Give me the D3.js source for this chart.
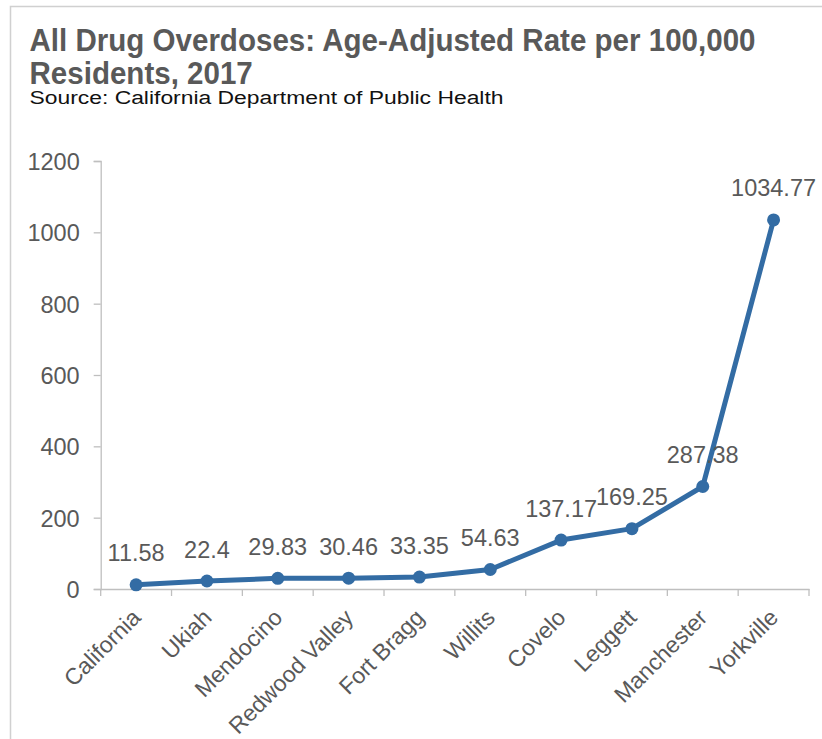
<!DOCTYPE html>
<html><head><meta charset="utf-8">
<script src="https://cdn.jsdelivr.net/npm/d3@7"></script>
<style>
html,body{margin:0;padding:0;background:#fff;}
svg{display:block;}
</style></head>
<body>
<svg id="chart" width="822" height="739"></svg>
<script>
const categories = ["California","Ukiah","Mendocino","Redwood Valley","Fort Bragg","Willits","Covelo","Leggett","Manchester","Yorkville"];
const values = [11.58, 22.4, 29.83, 30.46, 33.35, 54.63, 137.17, 169.25, 287.38, 1034.77];
const valueLabels = ["11.58","22.4","29.83","30.46","33.35","54.63","137.17","169.25","287.38","1034.77"];
const yTicks = [0, 200, 400, 600, 800, 1000, 1200];
const titleLines = ["All Drug Overdoses: Age-Adjusted Rate per 100,000", "Residents, 2017"];
const sourceText = "Source: California Department of Public Health";

const svg = d3.select("#chart");
const gray = "#595959";
const axisCol = "#bfbfbf";
const lineCol = "#336ca4";
const font = "'Liberation Sans',Arial,sans-serif";

// frame
svg.append("path").attr("d","M10.5,745 V6.5 H830")
  .attr("fill","none").attr("stroke","#d0d0d0").attr("stroke-width",1.5);

// header block: title (two lines) + source, as one text element
const head = svg.append("text").attr("font-family",font);
const ts1 = head.append("tspan").attr("x",29.5).attr("y",51).text(titleLines[0])
  .attr("font-weight","bold").attr("font-size",32).attr("fill",gray);
const ts2 = head.append("tspan").attr("x",29.5).attr("y",83.5).text(titleLines[1])
  .attr("font-weight","bold").attr("font-size",32).attr("fill",gray);
const ts3 = head.append("tspan").attr("x",29.5).attr("y",104).text(sourceText)
  .attr("font-size",18).attr("fill","#111");
const n1 = ts1.node().getComputedTextLength();
const n2 = ts2.node().getComputedTextLength();
const ratio = 726 / n1;
ts1.attr("textLength",726).attr("lengthAdjust","spacingAndGlyphs");
ts2.attr("textLength",n2*ratio).attr("lengthAdjust","spacingAndGlyphs");
ts3.attr("textLength",474).attr("lengthAdjust","spacingAndGlyphs");

// scales
const x = d3.scaleBand().domain(categories).range([100.7, 809]).paddingInner(0).paddingOuter(0);
const y = d3.scaleLinear().domain([0,1200]).range([589,161]);

// y axis
const yAxis = svg.append("g").attr("transform","translate(100.7,0)")
  .call(d3.axisLeft(y).tickValues(yTicks).tickSize(7).tickPadding(14).tickFormat(d3.format("d")));
yAxis.select(".domain").attr("stroke",axisCol).attr("stroke-width",1.3);
yAxis.selectAll(".tick line").attr("stroke",axisCol).attr("stroke-width",1.3);
yAxis.selectAll(".tick text").attr("font-family",font).attr("font-size",23.5).attr("fill",gray).attr("dy","0.36em");

// x axis
const xAxis = svg.append("g").attr("transform","translate(0,589)")
  .call(d3.axisBottom(x).tickSize(0).tickFormat(""));
xAxis.select(".domain").attr("stroke",axisCol).attr("stroke-width",1.3);
const bounds = categories.map(c=>x(c)).concat([x(categories[categories.length-1])+x.bandwidth()]);
xAxis.selectAll("line.bt").data(bounds).enter().append("line").attr("class","bt")
  .attr("x1",d=>d).attr("x2",d=>d).attr("y1",0).attr("y2",7)
  .attr("stroke",axisCol).attr("stroke-width",1.3);

// x labels
svg.append("g").selectAll("text").data(categories).enter().append("text")
  .attr("transform",d=>`translate(${x(d)+x.bandwidth()/2+6},${619}) rotate(-45)`)
  .attr("text-anchor","end").attr("font-family",font).attr("font-size",23).attr("fill",gray)
  .text(d=>d);

// line
const cx = d => x(d)+x.bandwidth()/2;
const pts = categories.map((c,i)=>[cx(c), y(values[i])]);
svg.append("path").attr("d", d3.line()(pts))
  .attr("fill","none").attr("stroke",lineCol).attr("stroke-width",5).attr("stroke-linejoin","round").attr("stroke-linecap","round");
svg.append("g").selectAll("circle").data(pts).enter().append("circle")
  .attr("cx",d=>d[0]).attr("cy",d=>d[1]).attr("r",6.5).attr("fill",lineCol);

// value labels
svg.append("g").selectAll("text").data(categories).enter().append("text")
  .attr("x",d=>cx(d)).attr("y",(d,i)=>y(values[i])-23.5)
  .attr("text-anchor","middle").attr("font-family",font).attr("font-size",23.5).attr("fill",gray)
  .text((d,i)=>valueLabels[i]);
</script>
</body></html>
